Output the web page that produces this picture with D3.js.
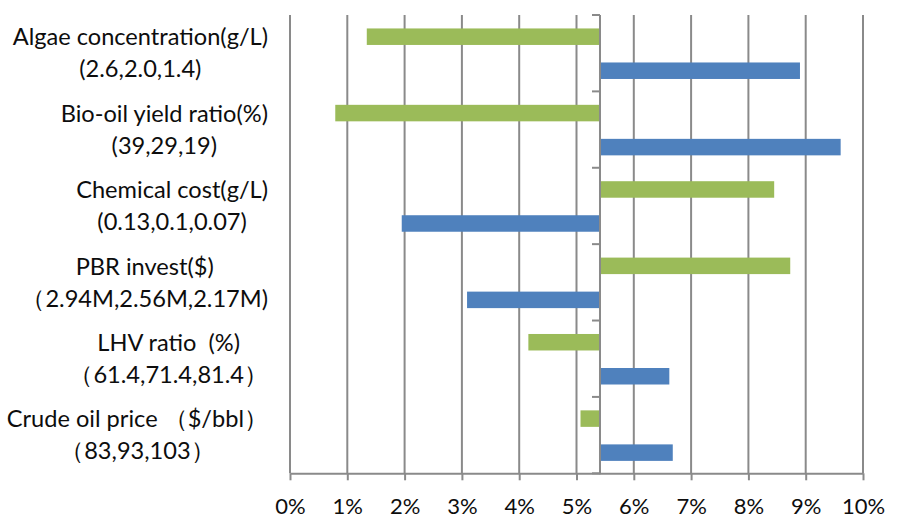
<!DOCTYPE html>
<html>
<head>
<meta charset="utf-8">
<script src="https://cdn.jsdelivr.net/npm/d3@7"></script>
<style>
  body { margin: 0; background: #fff; }
  text { font-family: Lato, "Liberation Sans", sans-serif; fill: #0d0d0d; white-space: pre; }
</style>
</head>
<body>
<div id="chart"></div>
<script>
// parameters and the range tested for each one
const categories = ["Algae concentration(g/L)", "Bio-oil yield ratio(%)", "Chemical cost(g/L)", "PBR invest($)", "LHV ratio  (%)", "Crude oil price （$/bbl）"];
const ranges = ["(2.6,2.0,1.4)", "(39,29,19)", "(0.13,0.1,0.07)", "（2.94M,2.56M,2.17M)", "（61.4,71.4,81.4）", "（83,93,103）"];

// result of the base case, bars start from here
const baseValue = 0.0541;
const series = ["first", "last"];
const firstCase = [0.0134, 0.0079, 0.0845, 0.0873, 0.0416, 0.0507];
const lastCase = [0.0890, 0.0961, 0.0195, 0.0309, 0.0662, 0.0668];
const xTicks = [0, 0.01, 0.02, 0.03, 0.04, 0.05, 0.06, 0.07, 0.08, 0.09, 0.10];

const width = 908, height = 529;
const margin = { top: 15, right: 45, bottom: 55.7, left: 290 };
const color = { first: "#9bbb59", last: "#4f81bd" };
const gray = "#8a8a8a";

(() => {

    const svg = d3.select("#chart").append("svg")
        .attr("width", width)
        .attr("height", height)
        .attr("viewBox", [0, 0, width, height]);

    const x = d3.scaleLinear()
        .domain([0, 0.1])
        .range([margin.left, width - margin.right]);

    const y = d3.scaleBand()
        .domain(categories)
        .range([margin.top, height - margin.bottom]);

    const ySub = d3.scaleBand()
        .domain(series)
        .range([0, y.bandwidth()])
        .paddingInner(0.515)
        .paddingOuter(0.38)
        .align(0.52);

    // vertical gridlines
    svg.append("g")
        .selectAll("line")
        .data(xTicks)
        .join("line")
            .attr("x1", d => x(d))
            .attr("x2", d => x(d))
            .attr("y1", margin.top)
            .attr("y2", height - margin.bottom)
            .attr("stroke", gray)
            .attr("stroke-width", 2);

    // x axis
    const xAxis = svg.append("g")
        .attr("transform", `translate(0,${height - margin.bottom})`)
        .call(d3.axisBottom(x)
            .tickValues(xTicks)
            .tickFormat(d3.format(".0%"))
            .tickSize(7)
            .tickSizeOuter(0)
            .tickPadding(18));
    xAxis.select(".domain").attr("stroke", gray).attr("stroke-width", 2);
    xAxis.selectAll(".tick line").attr("stroke", gray).attr("stroke-width", 2);
    xAxis.selectAll(".tick text")
        .attr("fill", "#0d0d0d")
        .style("font-size", "22px");

    // bars
    const rows = categories.map((c, i) => ({ category: c, first: firstCase[i], last: lastCase[i] }));

    svg.append("g")
        .selectAll("g")
        .data(rows)
        .join("g")
            .attr("transform", d => `translate(0,${y(d.category)})`)
        .selectAll("rect")
        .data(d => series.map(s => ({ key: s, value: d[s] })))
        .join("rect")
            .attr("x", d => x(Math.min(d.value, baseValue)))
            .attr("width", d => Math.abs(x(d.value) - x(baseValue)))
            .attr("y", d => ySub(d.key))
            .attr("height", ySub.bandwidth())
            .attr("fill", d => color[d.key]);

    // category axis crossing at the base case
    const bounds = categories.map(c => y(c)).concat([y.range()[1]]);
    const cx = x(baseValue);
    const catAxis = svg.append("g");
    catAxis.append("line")
        .attr("x1", cx).attr("x2", cx)
        .attr("y1", margin.top).attr("y2", height - margin.bottom + 1)
        .attr("stroke", gray)
        .attr("stroke-width", 2);
    catAxis.selectAll("line.tick")
        .data(bounds)
        .join("line")
            .attr("class", "tick")
            .attr("x1", cx - 8).attr("x2", cx)
            .attr("y1", d => d).attr("y2", d => d)
            .attr("stroke", gray)
            .attr("stroke-width", 2);

    // two-line category labels, centred in a box that ends left of the plot
    const labelRight = margin.left - 22;
    const label = svg.append("g")
        .style("font-size", "23.6px")
        .selectAll("g")
        .data(categories)
        .join("g");

    label.each(function(c, i) {
        const g = d3.select(this);
        const mid = y(c) + y.bandwidth() / 2;
        const lines = [c, ranges[i]];
        const texts = g.selectAll("text")
            .data(lines)
            .join("text")
                .attr("y", (d, j) => mid + (j - 0.5) * 32)
                .attr("dy", "0.35em")
                .attr("text-anchor", "middle")
                .text(d => d);
        const boxWidth = d3.max(texts.nodes(), n => n.getComputedTextLength());
        texts.attr("x", labelRight - boxWidth / 2);
    });

}).call(this);
</script>
</body>
</html>
